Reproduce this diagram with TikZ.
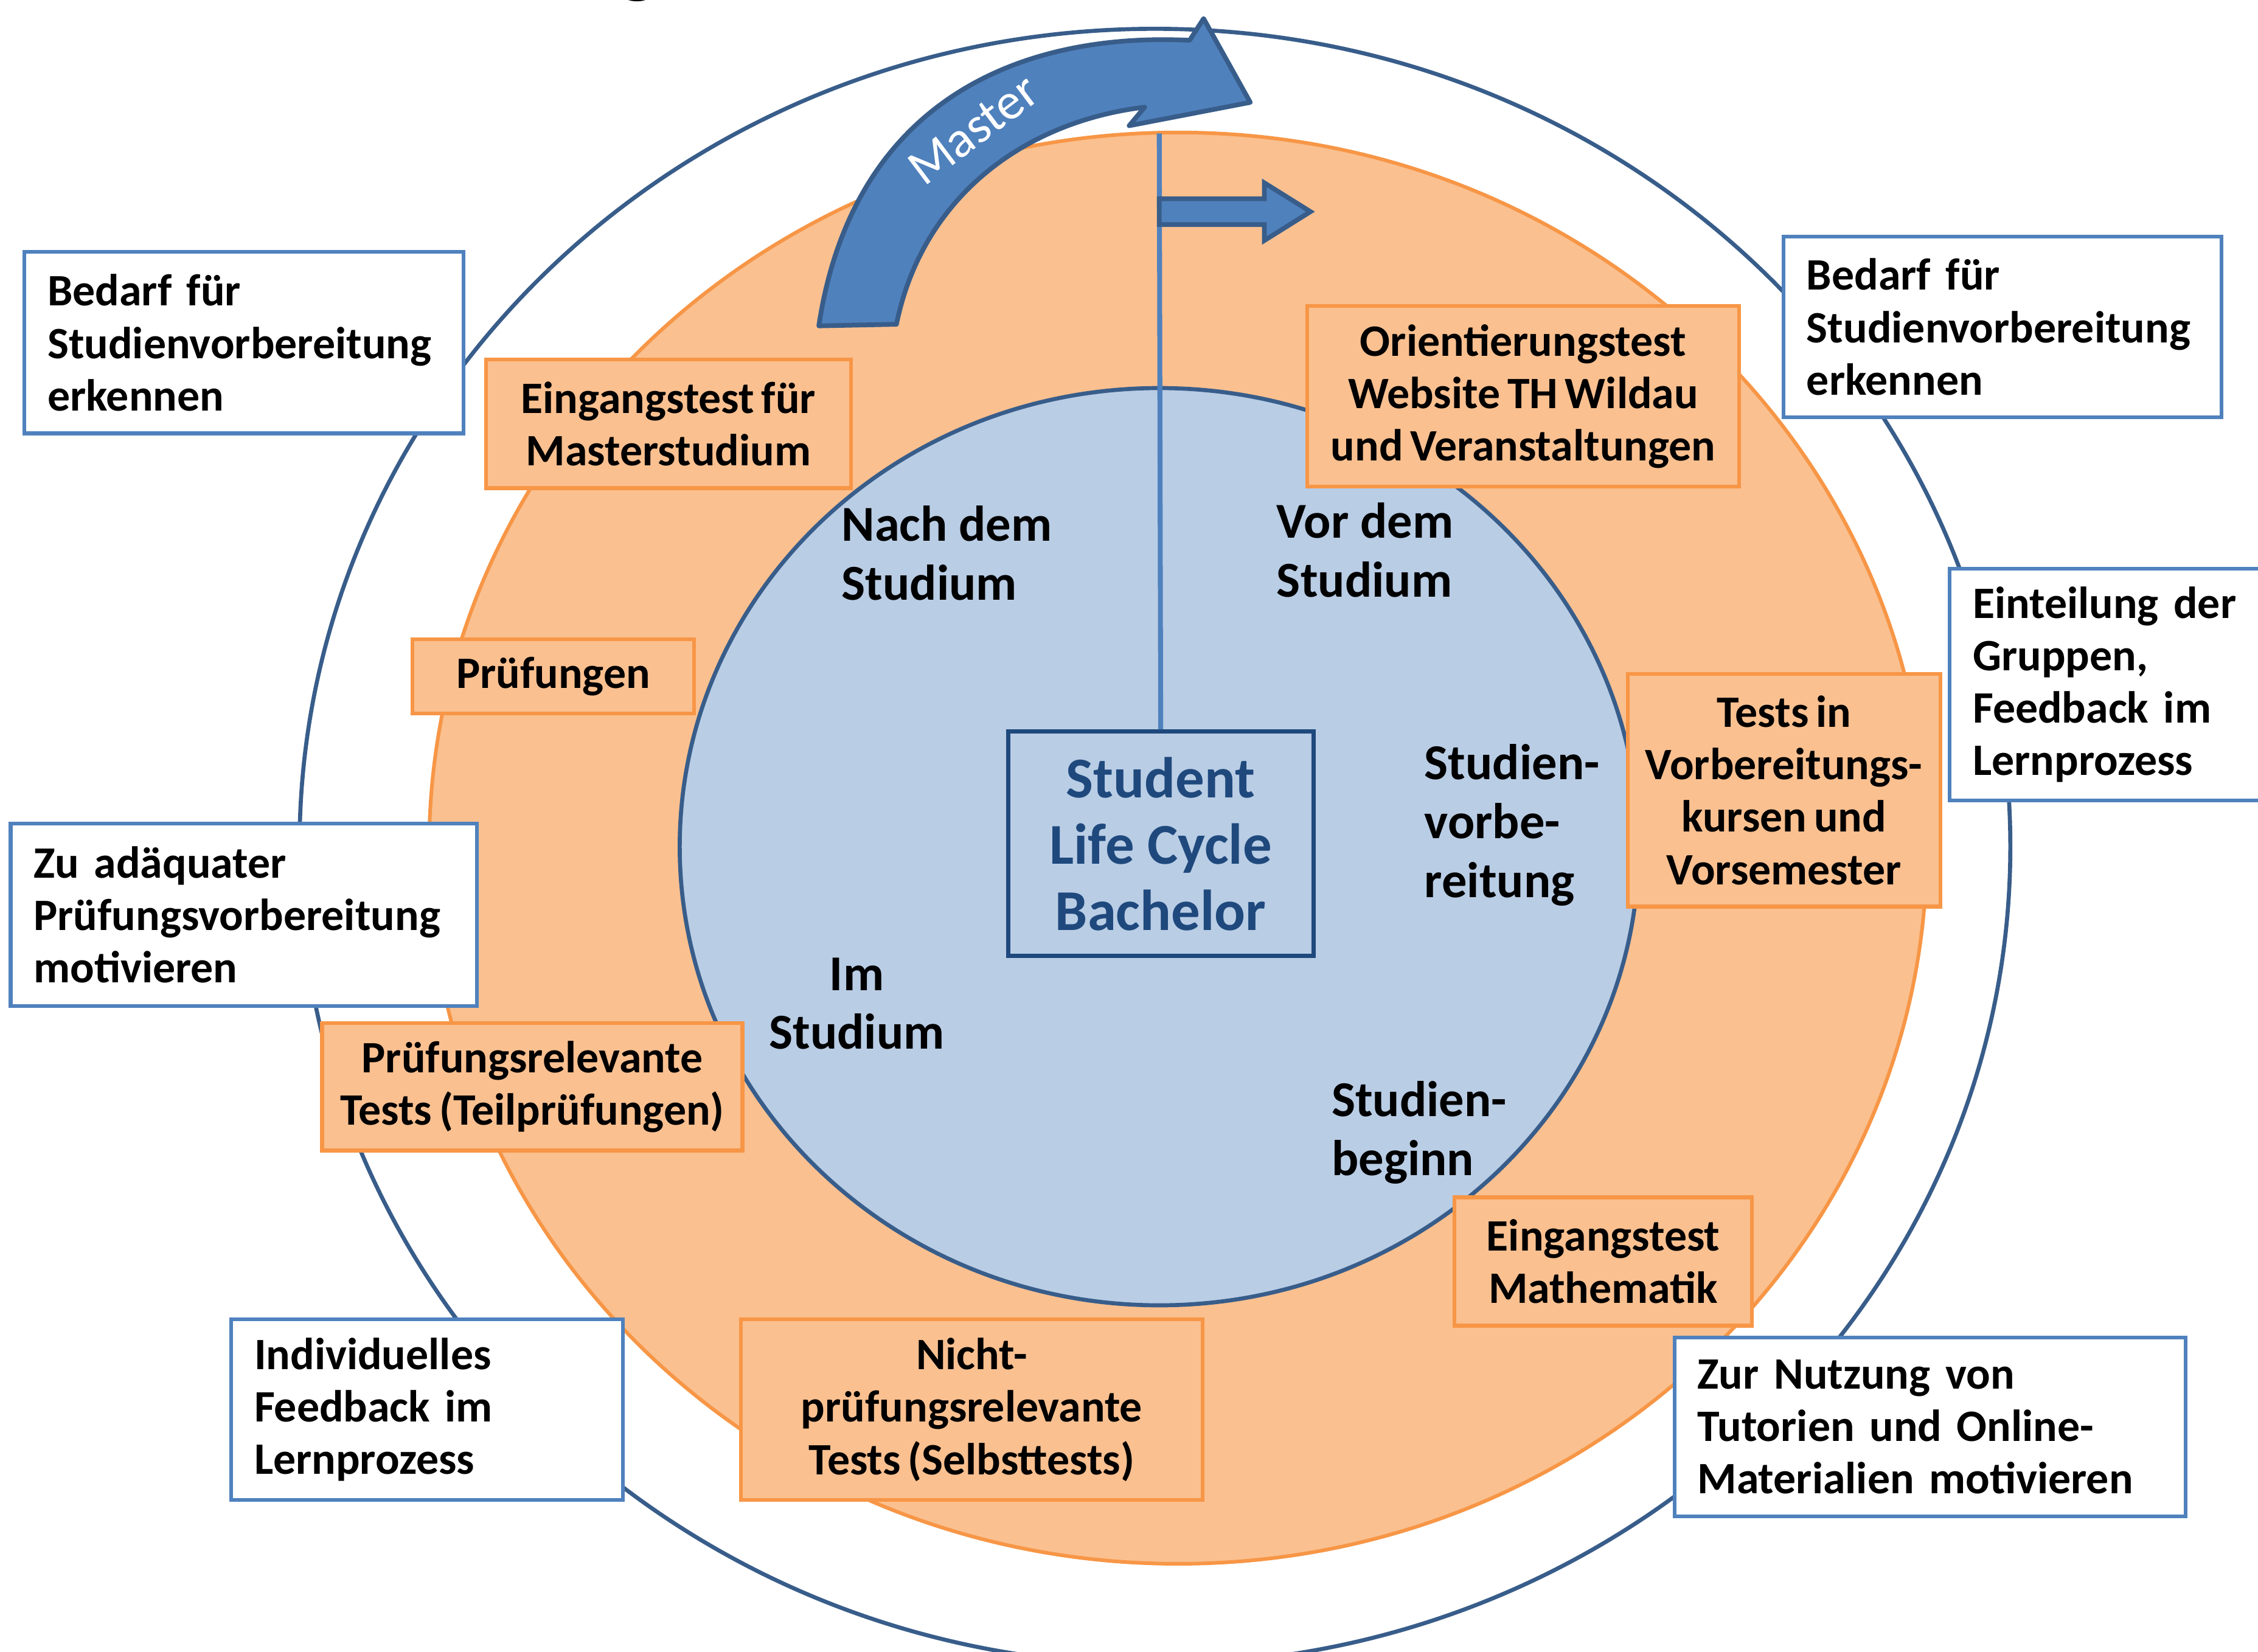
\documentclass[tikz,border=0pt]{standalone}
\usepackage{fontspec}
\setmainfont{Carlito}
\usepackage{tikz}

\definecolor{ringorange}{HTML}{F79646}
\definecolor{ringfill}{HTML}{FAC090}
\definecolor{corefill}{HTML}{B9CDE5}
\definecolor{coreline}{HTML}{385D8A}
\definecolor{boxblue}{HTML}{4F81BD}
\definecolor{navy}{HTML}{1F497D}

\newdimen\pxu
\pxu=0.023673cm
\newcommand\boxfont{\fontsize{21}{24.5}\selectfont\bfseries\spaceskip=0.16em plus 0.04em\relax}

\begin{document}
\begin{tikzpicture}[x=0.023673cm,y=-0.023673cm,
    bluebox/.style={draw=boxblue,line width=1.8pt,fill=white,align=left,inner xsep=16\pxu,font=\boxfont},
    orangebox/.style={draw=ringorange,line width=1.8pt,fill=ringfill,align=center,font=\boxfont},
    phase/.style={align=left,inner sep=0pt,font=\fontsize{23.5}{27.5}\selectfont\bfseries}]
      \useasboundingbox (0,0) rectangle (1568,1147);
      \fill[white] (0,0) rectangle (1568,1147);
      % title, cut off at the top
      \node[anchor=base,inner sep=0pt,font=\fontsize{40}{40}\selectfont] (ttl) at (443,-9) {g};
      % rings
      \draw[coreline,line width=1.9pt] (802,588) ellipse [x radius=594,y radius=568];
      \draw[ringorange,fill=ringfill,line width=1.7pt] (818,589) ellipse [x radius=520,y radius=497];
      \draw[coreline,fill=corefill,line width=1.9pt] (805,588) ellipse [x radius=333,y radius=318.5];
      % master arrow
      \draw[fill=boxblue,draw=coreline,line width=2.2pt,line join=round]
        (568.6,226.3) .. controls (592.6,67.9) and (711,22.3) .. (826.1,28)
        -- (835.8,12.9) -- (868.2,71.1) -- (784.1,87.3) -- (794.9,74.4)
        .. controls (710.8,84.6) and (640.5,137) .. (622.5,225.2) -- cycle;
      \node[white,rotate=37,font=\fontsize{24}{24}\selectfont] (mst) at (676,90) {Master};
      % centre and flag
      \node[draw=navy,line width=2pt,text=navy,align=center,minimum width=212\pxu,minimum height=156\pxu,
        font=\fontsize{27}{31}\selectfont\bfseries] (slc) at (806,586) {Student\\Life Cycle\\Bachelor};
      \coordinate (poletop) at (805,92.7);
      \draw[boxblue,line width=2.3pt] (poletop) -- (slc.north);
      \draw[fill=boxblue,draw=coreline,line width=2.2pt]
        (805,138) -- (878,138) -- (878,127) -- (910,147) -- (878,167) -- (878,156) -- (805,156) -- cycle;
      % phases
      \node[phase] (nach) at (657.5,384) {Nach dem\\Studium};
      \node[phase] (vor) at (948,382) {Vor dem\\Studium};
      \node[phase] (vorb) at (1050,573) {Studien-\\vorbe-\\reitung};
      \node[phase,align=center] (im) at (595,697) {Im\\Studium};
      \node[phase] (beginn) at (985.5,786.5) {Studien-\\beginn};
      % tests
      \node[orangebox,minimum width=253.5\pxu,minimum height=89.4\pxu] (eingmaster) at (464.2,294.3) {Eingangstest für\\Masterstudium};
      \node[orangebox,minimum width=299.7\pxu,minimum height=125.4\pxu] (orient) at (1057.7,275.3) {Orientierungstest\\Website TH Wildau\\und Veranstaltungen};
      \node[orangebox,minimum width=195.5\pxu,minimum height=51.5\pxu] (pruef) at (384.2,469.7) {Prüfungen};
      \node[orangebox,minimum width=217.1\pxu,minimum height=161.6\pxu] (vorkurs) at (1238.8,548.8) {Tests in\\Vorbereitungs-\\kursen und\\Vorsemester};
      \node[orangebox,minimum width=292\pxu,minimum height=88.6\pxu] (pruefrel) at (369.6,754.7) {Prüfungsrelevante\\Tests (Teilprüfungen)};
      \node[orangebox,minimum width=206.6\pxu,minimum height=89.2\pxu] (eingmathe) at (1113.3,876.1) {Eingangstest\\Mathematik};
      \node[orangebox,minimum width=320.6\pxu,minimum height=125.4\pxu] (selbst) at (674.8,979) {Nicht-\\prüfungsrelevante\\Tests (Selbsttests)};
      % goals
      \node[bluebox,text width=273\pxu,minimum height=126\pxu] (bedarfl) at (169.5,238) {Bedarf für\\Studienvorbereitung\\erkennen};
      \node[bluebox,text width=272\pxu,minimum height=125.5\pxu] (bedarfr) at (1390.5,227) {Bedarf für\\Studienvorbereitung\\erkennen};
      \node[bluebox,text width=230\pxu,minimum height=161\pxu,anchor=west] (gruppen) at (1352.6,475.5) {Einteilung der\\Gruppen,\\Feedback im\\Lernprozess};
      \node[bluebox,text width=291.7\pxu,minimum height=126.7\pxu] (motiv) at (169.2,635.4) {Zu adäquater\\Prüfungsvorbereitung\\motivieren};
      \node[bluebox,text width=240\pxu,minimum height=125.4\pxu] (feedback) at (296.6,979) {Individuelles\\Feedback im\\Lernprozess};
      \node[bluebox,text width=323\pxu,minimum height=124\pxu] (tutor) at (1340.3,991) {Zur Nutzung von\\Tutorien und Online-\\Materialien motivieren};
    \end{tikzpicture}
\end{document}
